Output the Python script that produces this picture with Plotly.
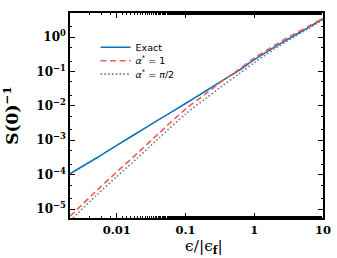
import plotly.graph_objects as go

# data, x = eps/|eps_f|
x_vals = [0.0021, 0.005, 0.01, 0.02, 0.041, 0.1, 0.2, 0.32, 0.6, 1.0, 2.0, 3.16, 6.0, 10.0]
exact = [1.07e-4, 3.0e-4, 7.1e-4, 1.65e-3, 4.0e-3, 1.17e-2, 2.75e-2, 5.0e-2, 0.108, 0.22, 0.52, 0.89, 1.85, 3.4]
alpha_one = [6.2e-6, 3.3e-5, 1.2e-4, 4.2e-4, 1.6e-3, 8.0e-3, 2.3e-2, 4.8e-2, 0.115, 0.245, 0.58, 1.0, 2.0, 3.5]
alpha_pi2 = [4.6e-6, 2.45e-5, 8.8e-5, 3.05e-4, 1.15e-3, 5.8e-3, 1.68e-2, 3.45e-2, 0.085, 0.18, 0.46, 0.81, 1.72, 3.2]

names = ["Exact", "<i>α</i><sup>*</sup> = 1", "<i>α</i><sup>*</sup> = <i>π</i>/2"]
colors = ["#0a72b5", "#f25a5a", "#7a7a7a"]
dashes = ["solid", "6px,3.5px", "1.6px,2.2px"]
legend_ids = ["legend", "legend2", "legend3"]

y_tickvals = [1e0, 1e-1, 1e-2, 1e-3, 1e-4, 1e-5]
y_ticktext = ["<b>10<sup>0</sup></b>", "<b>10<sup>−1</sup></b>", "<b>10<sup>−2</sup></b>",
              "<b>10<sup>−3</sup></b>", "<b>10<sup>−4</sup></b>", "<b>10<sup>−5</sup></b>"]
x_tickvals = [0.01, 0.1, 1, 10]
x_ticktext = ["<b>0.01</b>", "<b>0.1</b>", "<b>1</b>", "<b>10</b>"]
x_title = "ϵ/|ϵ<sub><b>f</b></sub>|"

fig = go.Figure()
for yv, nm, c, d, lg in zip([exact, alpha_one, alpha_pi2], names, colors, dashes, legend_ids):
    fig.add_trace(go.Scatter(x=x_vals, y=yv, mode="lines", name=nm, legend=lg,
                             line=dict(color=c, width=1.6, dash=d, shape="spline", smoothing=0.8)))

axis_common = dict(
    type="log", showgrid=False, zeroline=False, automargin=False,
    showline=True, linecolor="black", linewidth=1.5, mirror="allticks",
    ticks="inside", ticklen=5, tickwidth=1, tickcolor="black",
    minor=dict(ticks="inside", ticklen=2.5, tickwidth=1, tickcolor="black", showgrid=False),
    ticklabeloverflow="allow",
)

fig.update_xaxes(**axis_common, range=[-2.68, 1.0], tickvals=x_tickvals, ticktext=x_ticktext,
                 tickfont=dict(family="DejaVu Serif", size=11.5, color="black"))
fig.update_yaxes(**axis_common, range=[-5.26, 0.70], tickvals=y_tickvals, ticktext=y_ticktext,
                 tickfont=dict(family="DejaVu Serif", size=12, color="black"),
                 title=dict(text="<b>S(0)<sup>−1</sup></b>",
                            font=dict(family="DejaVu Serif", size=17, color="black"), standoff=16))

fig.add_annotation(text=x_title, xref="paper", yref="paper", x=0.53, y=-0.14,
                   xanchor="center", yanchor="middle", showarrow=False,
                   font=dict(family="DejaVu Serif", size=15.5, color="black"))

leg_common = dict(x=0.101, xanchor="left", yanchor="middle", bgcolor="rgba(0,0,0,0)",
                  itemwidth=30, font=dict(family="DejaVu Sans", size=9.5, color="black"))
fig.update_layout(
    width=337, height=258,
    margin=dict(l=70, r=13.5, t=12.7, b=39.7),
    paper_bgcolor="white", plot_bgcolor="white",
    showlegend=True,
    legend=dict(**leg_common, y=0.833),
    legend2=dict(**leg_common, y=0.767),
    legend3=dict(**leg_common, y=0.702),
)

fig.write_html("out.html", config={"displayModeBar": False},
               post_script="document.body.style.margin='0';document.body.style.overflow='hidden';")
